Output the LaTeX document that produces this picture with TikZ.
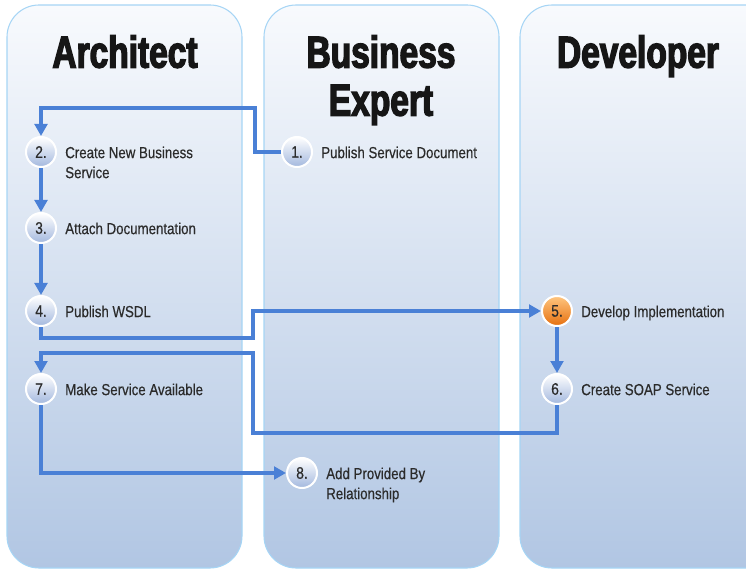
\documentclass[tikz,border=0pt]{standalone}
\usepackage{fontspec}
\setmainfont{Liberation Sans}
\newfontfamily\labelfont{Liberation Sans}[FakeStretch=0.83, FakeBold=0.4]
\newfontfamily\titlefont{Liberation Sans}[FakeStretch=0.75, BoldFeatures={FakeBold=3}]
\usetikzlibrary{arrows.meta}
\definecolor{lanetop}{HTML}{F8FAFD}
\definecolor{lanebot}{HTML}{B1C6E3}
\definecolor{laneborder}{HTML}{A6D5F5}
\definecolor{circbot}{HTML}{A3B8DE}
\definecolor{orangetop}{HTML}{FFC680}
\definecolor{orangebot}{HTML}{E6700F}
\definecolor{flowc}{HTML}{4A80D6}
\definecolor{textc}{HTML}{2B2B2B}
\definecolor{titlec}{HTML}{161616}
\begin{document}
\begin{tikzpicture}[x=0.75pt,y=-0.75pt,
  lane/.style={draw=laneborder, line width=0.8pt, rounded corners=24pt, top color=lanetop, bottom color=lanebot},
  stepc/.style={circle, minimum size=22.5pt, inner sep=0pt, draw=white, line width=1.5pt,
    top color=white, bottom color=circbot, font=\labelfont\fontsize{12.5}{14}\selectfont, text=textc},
  hot/.style={top color=orangetop, bottom color=orangebot},
  lbl/.style={anchor=north west, inner sep=0pt, xshift=6pt, yshift=4.3pt, align=left,
    font=\labelfont\fontsize{12}{15}\selectfont, text=textc},
  flow/.style={draw=flowc, line width=2.3pt},
  arr/.style={flow, -{Triangle[length=9pt,width=9.5pt]}},
  title/.style={font=\titlefont\bfseries\fontsize{33.5}{36}\selectfont, text=titlec, inner sep=0pt, align=center}
]
\clip (0,0) rectangle (746,570);
% lanes
\path[lane] (7,5) rectangle (242,568);
\path[lane] (264,5) rectangle (499,568);
\path[lane] (520,5) rectangle (790,568);
% titles
\node[title, anchor=north] (t1) at (125,35) {Architect};
\node[title, anchor=north] (t2) at (381,35) {Business\\Expert};
\node[title, anchor=north] (t3) at (638,35) {Developer};
% steps
\node[stepc] (s1) at (297,152) {1.};
\node[stepc] (s2) at (41,152) {2.};
\node[stepc] (s3) at (41,228) {3.};
\node[stepc] (s4) at (41,311) {4.};
\node[stepc,hot] (s5) at (557,311) {5.};
\node[stepc] (s6) at (557,389) {6.};
\node[stepc] (s7) at (41,389) {7.};
\node[stepc] (s8) at (302,473) {8.};
% labels
\node[lbl] (l1) at (s1.east) {Publish Service Document};
\node[lbl] (l2) at (s2.east) {Create New Business\\Service};
\node[lbl] (l3) at (s3.east) {Attach Documentation};
\node[lbl] (l4) at (s4.east) {Publish WSDL};
\node[lbl] (l5) at (s5.east) {Develop Implementation};
\node[lbl] (l6) at (s6.east) {Create SOAP Service};
\node[lbl] (l7) at (s7.east) {Make Service Available};
\node[lbl] (l8) at (s8.east) {Add Provided By\\Relationship};
% connectors
\coordinate (a1) at (255,108);
\draw[arr] (s1.west) -| (a1) -| (s2.north);
\draw[arr] (s2.south) -- (s3.north);
\draw[arr] (s3.south) -- (s4.north);
\coordinate (b1) at (253,338);
\draw[arr] (s4.south) |- (b1) |- (s5.west);
\draw[arr] (s5.south) -- (s6.north);
\coordinate (c1) at (253,433);
\coordinate (c2) at (41,353);
\draw[arr] (s6.south) |- (c1) |- (c2) -- (s7.north);
\draw[arr] (s7.south) |- (s8.west);
\end{tikzpicture}
\end{document}
